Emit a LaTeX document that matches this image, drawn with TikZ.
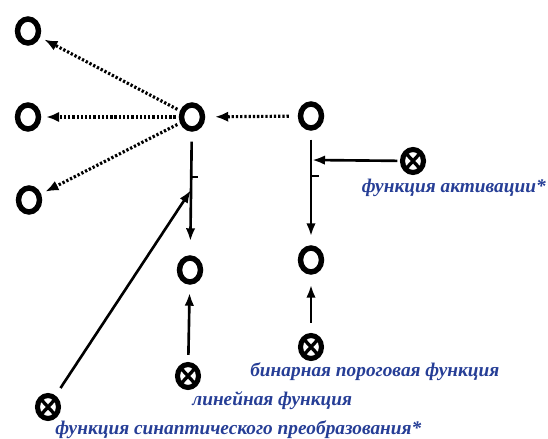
\documentclass[tikz,border=0pt]{standalone}
\usepackage{fontspec}
\setmainfont{Liberation Serif}
\usetikzlibrary{arrows.meta,shapes.geometric}

\definecolor{labelblue}{RGB}{38,62,150}

\tikzset{
  neuron/.style={ellipse, draw, line width=3.1pt, minimum width=0.42cm,
    minimum height=0.48cm, inner sep=0pt},
  gate/.style={ellipse, draw, line width=2.9pt, minimum width=0.42cm,
    minimum height=0.46cm, inner sep=0pt,
    path picture={\draw[line width=1.9pt]
      (path picture bounding box.south west) -- (path picture bounding box.north east)
      (path picture bounding box.north west) -- (path picture bounding box.south east);}},
  dotarrow/.style={line width=1.8pt, dash pattern=on 1.3pt off 1.1pt,
    -{Latex[length=0.26cm,width=0.21cm]}},
  wire/.style={line width=1.5pt},
  arrow/.style={wire, -{Latex[length=0.26cm,width=0.19cm]}},
  lbl/.style={anchor=west, inner sep=0pt, text=labelblue,
    font=\bfseries\itshape\fontsize{11}{13}\selectfont}
}

\begin{document}
\begin{tikzpicture}[x=0.02cm, y=-0.02cm]
  \useasboundingbox (0,0) rectangle (548,439);

  % neurons
  \node[neuron] (L1) at (28,31) {};
  \node[neuron] (L2) at (28,117) {};
  \node[neuron] (L3) at (29,200) {};
  \node[neuron] (C) at (192,117) {};
  \node[neuron] (R) at (311,116) {};
  \node[neuron] (M1) at (190,270) {};
  \node[neuron] (M2) at (311,260) {};

  % function nodes
  \node[gate] (act) at (413,161) {};
  \node[gate] (bin) at (311,347) {};
  \node[gate] (lin) at (188,376) {};
  \node[gate] (syn) at (48,407) {};

  % junctions on the wires
  \coordinate (tkC) at (191,177);
  \coordinate (jC) at (191,190);
  \coordinate (tkR) at (312,176);
  \coordinate (jR) at (312,160);

  % dotted links
  \draw[dotarrow, shorten <=0.06cm, shorten >=0.1cm] (C) -- (L1);
  \draw[dotarrow, shorten <=0.06cm, shorten >=0.1cm] (C) -- (L2);
  \draw[dotarrow, shorten <=0.06cm, shorten >=0.1cm] (C) -- (L3);
  \draw[dotarrow, shorten <=0.18cm, shorten >=0.2cm] (R) -- (C);

  % solid links
  \draw[arrow, shorten <=0.2cm, shorten >=0.28cm] (C) -- (M1);
  \draw[arrow, shorten <=0.18cm, shorten >=0.18cm] (R) -- (M2);
  \draw[wire] (tkC) -- ++(7,0);
  \draw[wire] (tkR) -- ++(7,0);
  \draw[arrow, shorten <=0.05cm] (act) -- (jR);
  \draw[arrow, shorten <=0.18cm] (syn) -- (jC);
  \draw[arrow, shorten <=0.14cm, shorten >=0.16cm] (lin) -- (M1);
  \draw[arrow, shorten <=0.2cm, shorten >=0.2cm] (bin) -- (M2);

  % labels
  \node[lbl, anchor=east] (actL) at (546,188) {функция активации*};
  \node[lbl] (binL) at (250,372) {бинарная пороговая функция};
  \node[lbl] (linL) at (192,401) {линейная функция};
  \node[lbl] (synL) at (55,430) {функция синаптического преобразования*};
\end{tikzpicture}
\end{document}
